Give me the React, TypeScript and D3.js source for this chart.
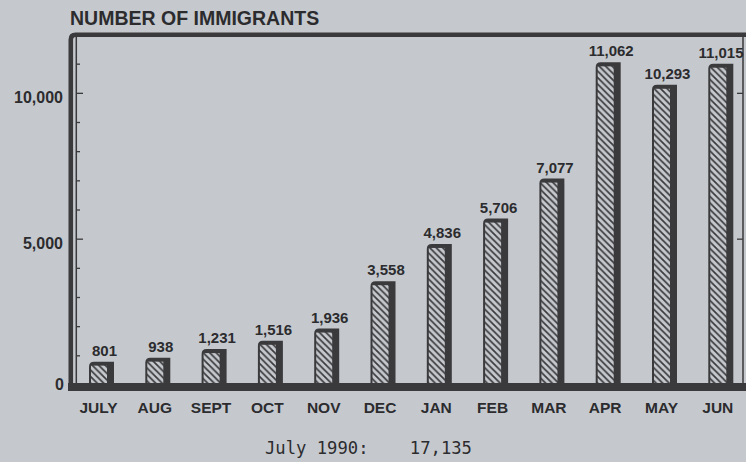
import React from 'react';
import * as d3 from 'd3';

// monthly immigrant arrivals, July 1989 - June 1990
const months = ['JULY', 'AUG', 'SEPT', 'OCT', 'NOV', 'DEC', 'JAN', 'FEB', 'MAR', 'APR', 'MAY', 'JUN'];
const immigrants = [801, 938, 1231, 1516, 1936, 3558, 4836, 5706, 7077, 11062, 10293, 11015];
const labelTicks = [0, 5000, 10000];
const title = 'NUMBER OF IMMIGRANTS';
const footnote = 'July 1990:    17,135';

const W = 746;
const H = 462;
const BG = '#c5c9ce';
const INK = '#3a393b';
const TEXT = '#2c2c2e';

const App = () => {
  const y = d3.scaleLinear().domain([0, 12000]).range([385, 35]);
  const x = d3.scaleBand().domain(months).range([73.35, 748.95]).padding(0);
  const barW = 25;
  const off = (x.bandwidth() - barW) / 2;
  const fmt = d3.format(',');
  const tickVals = y.ticks(12).filter(t => t > 0 && t < 12000);

  return (
    <svg width={W} height={H} style={{ position: 'fixed', left: 0, top: 0, background: BG }}>
      <defs>
        <pattern id="hatch" patternUnits="userSpaceOnUse" width="6.5" height="6.5">
          <rect width="6.5" height="6.5" fill={BG} />
          <path d="M-1,-1 L7.5,7.5 M-1,5.5 L1,7.5 M5.5,-1 L7.5,1" stroke={INK} strokeWidth="1.7" />
        </pattern>
      </defs>
      <rect width={W} height={H} fill={BG} />

      <text x={70} y={25} fontFamily="Liberation Sans, Arial, sans-serif" fontWeight="bold"
        fontSize={19.5} fill={TEXT}>{title}</text>

      {/* frame */}
      <path d="M70.8,391 V39.5 Q70.8,34.7 75.6,34.7 H760" fill="none" stroke={INK} strokeWidth={4.6} />
      <line x1={76.3} x2={76.3} y1={37} y2={384} stroke={INK} strokeWidth={1.5} />
      <line x1={743} x2={743} y1={37} y2={384} stroke={INK} strokeWidth={1.5} />
      <line x1={749} x2={749} y1={34} y2={391} stroke={INK} strokeWidth={4.6} />

      {/* left ticks */}
      {tickVals.map(t => (
        <line key={'l' + t} x1={76.3} x2={t % 5000 === 0 ? 83 : 80} y1={y(t)} y2={y(t)}
          stroke={INK} strokeWidth={1.3} />
      ))}
      {labelTicks.filter(t => t > 0).map(t => (
        <line key={'r' + t} x1={743} x2={737} y1={y(t)} y2={y(t)} stroke={INK} strokeWidth={1.3} />
      ))}
      {labelTicks.map(t => (
        <text key={'t' + t} x={t === 0 ? 64 : 63} y={y(t) + (t === 0 ? 5 : 10)} textAnchor="end"
          fontFamily="Liberation Sans, Arial, sans-serif" fontWeight="bold" fontSize={16} fill={TEXT}>
          {fmt(t)}
        </text>
      ))}

      {/* bars */}
      {months.map((m, i) => {
        const x0 = (x(m) as number) + off;
        const top = y(immigrants[i]);
        const bottom = y(0);
        const r = 5;
        return (
          <g key={m}>
            <path
              d={`M${x0},${bottom} V${top + r} Q${x0},${top} ${x0 + r},${top} H${x0 + barW} V${bottom} Z`}
              fill={INK}
            />
            <rect x={x0 + 2} y={top + 4} width={16} height={bottom - top - 4} fill="url(#hatch)" />
            <text x={Math.min(x0 + 15.5, 721)} y={top - 6} textAnchor="middle"
              fontFamily="Liberation Sans, Arial, sans-serif" fontWeight="bold" fontSize={15} fill={TEXT}>
              {fmt(immigrants[i])}
            </text>
            <text x={x0 + 9.5} y={413} textAnchor="middle"
              fontFamily="Liberation Sans, Arial, sans-serif" fontWeight="bold" fontSize={15.5} fill={TEXT}>
              {m}
            </text>
          </g>
        );
      })}

      {/* baseline */}
      <rect x={68} y={383} width={W} height={8} fill={INK} />

      <text x={265} y={454} fontFamily="DejaVu Sans Mono, monospace" fontSize={17.2} fill={TEXT}
        style={{ whiteSpace: 'pre' }}>{footnote}</text>
    </svg>
  );
};

export default App;
